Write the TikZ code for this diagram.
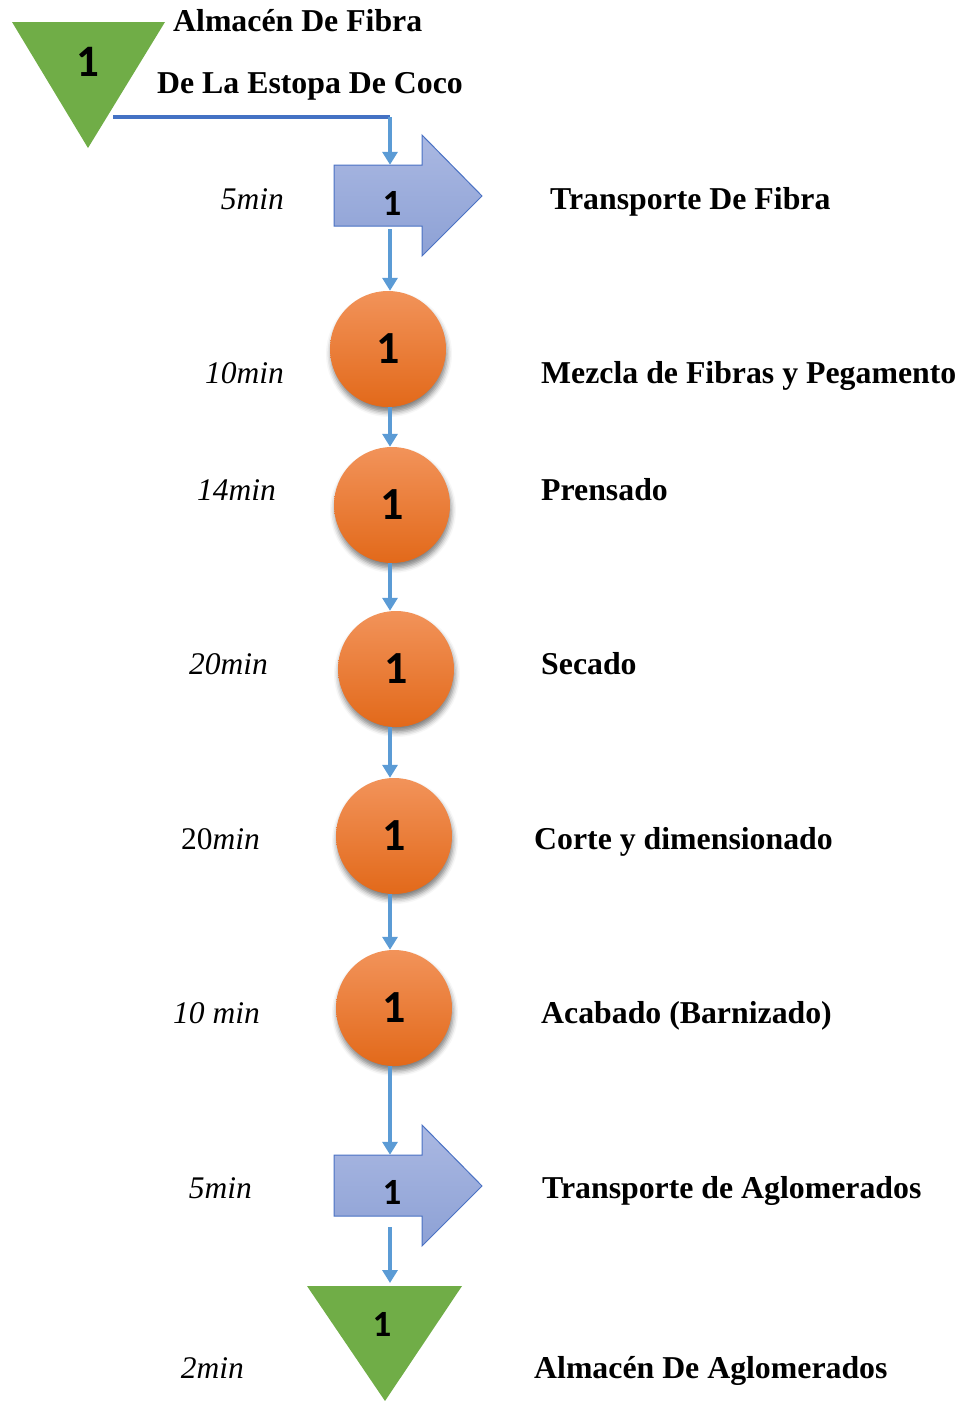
\documentclass[tikz,border=0pt]{standalone}
\usepackage{fontspec}
\setmainfont{Liberation Serif}
\newfontfamily\numfont{Carlito}
\usetikzlibrary{arrows.meta,shadows.blur}

\definecolor{stockgreen}{HTML}{70AD47}
\definecolor{arrTop}{HTML}{AAB8E2}
\definecolor{arrBot}{HTML}{8DA1D5}
\definecolor{arrEdge}{HTML}{4A72C4}
\definecolor{opTop}{HTML}{F2935A}
\definecolor{opMid}{HTML}{F37E2D}
\definecolor{opBot}{HTML}{E2691A}
\definecolor{flowblue}{HTML}{5B9BD5}
\definecolor{linkblue}{HTML}{4472C4}

\begin{document}
\begin{tikzpicture}[x=1pt,y=-1pt,
  lbl/.style={anchor=base west, inner sep=0, font=\fontsize{31.8}{36}\selectfont\bfseries},
  tm/.style={anchor=base east, inner sep=0, font=\fontsize{31.5}{36}\selectfont\itshape},
  num/.style={inner sep=0, font=\numfont\bfseries\fontsize{45}{50}\selectfont},
  numsm/.style={inner sep=0, font=\numfont\bfseries\fontsize{37}{42}\selectfont},
  op/.style={circle, minimum size=116pt, inner sep=0, top color=opTop, middle color=opMid,
    bottom color=opBot, font=\numfont\bfseries\fontsize{46}{50}\selectfont,
    blur shadow={shadow xshift=1pt, shadow yshift=-5pt,
    shadow blur radius=5pt, shadow opacity=50}},
  body/.style={rectangle, minimum width=88pt, minimum height=61pt, inner sep=0},
  flow/.style={draw=flowblue, line width=3.5pt, -{Triangle[width=15pt,length=13pt]}},
  tarrow/.style={top color=arrTop, bottom color=arrBot, draw=arrEdge, line width=1pt, line join=miter}
]
\useasboundingbox (0,0) rectangle (963,1401);

% storage of raw fibre
\fill[stockgreen] (12,22) -- (165,22) -- (88,148) -- cycle;
\node[num] (t1) at (88,62) {1};
\coordinate (s0) at (113,117);
\node[lbl] at (173,31) {Almacén De Fibra};
\node[lbl] at (157,93) {De La Estopa De Coco};

% transport of fibre
\shade[tarrow] (334,165) -- (422,165) -- (422,135) -- (482,196) -- (422,256) -- (422,226) -- (334,226) -- cycle;
\node[body] (a1) at (378,195.5) {};
\node[numsm] at (392,203) {1};

% operations
\node[op] (c1) at (388,349) {1};
\node[op] (c2) at (392,505) {1};
\node[op] (c3) at (396,669) {1};
\node[op] (c4) at (394,836) {1};
\node[op] (c5) at (394,1008) {1};

% transport of boards
\shade[tarrow] (334,1155) -- (422,1155) -- (422,1125) -- (482,1186) -- (422,1246) -- (422,1216) -- (334,1216) -- cycle;
\node[body] (a2) at (378,1185.5) {};
\node[numsm] at (392,1192) {1};

% storage of boards
\fill[stockgreen] (307,1286) -- (462,1286) -- (385,1401) -- cycle;
\coordinate (t2) at (385,1286);
\node[numsm] (t2n) at (382,1324) {1};

% connectors
\draw[draw=linkblue, line width=3.5pt] (s0) -- (390,117) coordinate (k0);
\draw[flow] (k0) -- (a1.north -| k0);
\draw[flow, shorten <=3pt] (a1.south -| k0) -- (c1.north -| k0);
\draw[flow] (c1.south -| k0) -- (c2.north -| k0);
\draw[flow] (c2.south -| k0) -- (c3.north -| k0);
\draw[flow] (c3.south -| k0) -- (c4.north -| k0);
\draw[flow] (c4.south -| k0) -- (c5.north -| k0);
\draw[flow] (c5.south -| k0) -- (a2.north -| k0);
\draw[flow, shorten <=11pt, shorten >=3pt] (a2.south -| k0) -- (t2 -| k0);

% times
\node[tm] at (284,209) {5min};
\node[tm] at (284,383) {10min};
\node[tm] at (276,500) {14min};
\node[tm] at (268,674) {20min};
\node[tm] at (260,849) {{\upshape 20}min};
\node[tm] at (260,1023) {10 min};
\node[tm] at (252,1198) {5min};
\node[tm] at (244,1378) {2min};

% descriptions
\node[lbl] at (550,209) {Transporte De Fibra};
\node[lbl] at (541,383) {Mezcla de Fibras y Pegamento};
\node[lbl] at (541,500) {Prensado};
\node[lbl] at (541,674) {Secado};
\node[lbl] at (534,849) {Corte y dimensionado};
\node[lbl] at (541,1023) {Acabado (Barnizado)};
\node[lbl] at (542,1198) {Transporte de Aglomerados};
\node[lbl] at (534,1378) {Almacén De Aglomerados};
\end{tikzpicture}
\end{document}
